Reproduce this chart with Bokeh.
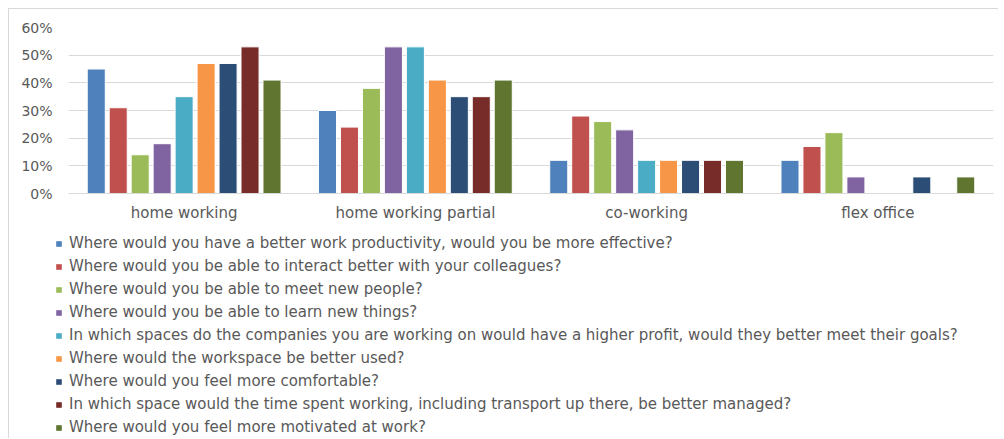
from bokeh.plotting import figure
from bokeh.models import (ColumnDataSource, FactorRange, Range1d, FixedTicker,
                          NumeralTickFormatter, Legend, LegendItem)
from bokeh.transform import dodge
from bokeh.embed import file_html
from bokeh.resources import INLINE

categories = ["home working", "home working partial", "co-working", "flex office"]

series_labels = [
    "Where would you have a better work productivity, would you be more effective?",
    "Where would you be able to interact better with your colleagues?",
    "Where would you be able to meet new people?",
    "Where would you be able to learn new things?",
    "In which spaces do the companies you are working on would have a higher profit, would they better meet their goals?",
    "Where would the workspace be better used?",
    "Where would you feel more comfortable?",
    "In which space would the time spent working, including transport up there, be better managed?",
    "Where would you feel more motivated at work?",
]

productivity = [0.45, 0.30, 0.12, 0.12]
interact = [0.31, 0.24, 0.28, 0.17]
meet_people = [0.14, 0.38, 0.26, 0.22]
learn = [0.18, 0.53, 0.23, 0.06]
profit = [0.35, 0.53, 0.12, 0.0]
workspace_used = [0.47, 0.41, 0.12, 0.0]
comfortable = [0.47, 0.35, 0.12, 0.06]
time_managed = [0.53, 0.35, 0.12, 0.0]
motivated = [0.41, 0.41, 0.12, 0.06]

series_values = [productivity, interact, meet_people, learn, profit,
                 workspace_used, comfortable, time_managed, motivated]

colors = ["#4F81BD", "#C0504D", "#9BBB59", "#8064A2", "#4BACC6",
          "#F79646", "#2C4D75", "#772C2A", "#5F7530"]

y_ticks = [0, 0.1, 0.2, 0.3, 0.4, 0.5, 0.6]

data = {"cat": categories}
for i, vals in enumerate(series_values):
    data[f"s{i}"] = vals
source = ColumnDataSource(data)

TEXT = "#595959"
FONT = "DejaVu Sans"
BORDER = "1px solid #d9d9d9"

slot = 0.095
bar_w = 0.078

# --- chart ---
p = figure(x_range=FactorRange(*categories), y_range=Range1d(0, 0.6),
           width=990, height=215, output_backend="svg", toolbar_location=None,
           min_border_left=59, min_border_right=6, min_border_top=18,
           min_border_bottom=28)
p.styles = {"margin-left": "8px", "margin-top": "8px",
            "border-top": BORDER, "border-left": BORDER}
p.outline_line_color = None
p.xgrid.grid_line_color = None
p.ygrid.grid_line_color = "#d9d9d9"
p.ygrid.grid_line_width = 1

p.yaxis.ticker = FixedTicker(ticks=y_ticks)
p.yaxis.formatter = NumeralTickFormatter(format="0%")
p.yaxis.axis_line_color = None
p.yaxis.major_tick_line_color = None
p.yaxis.minor_tick_line_color = None
p.yaxis.major_tick_out = 0
p.yaxis.major_label_standoff = 16
p.yaxis.major_label_text_color = TEXT
p.yaxis.major_label_text_font = FONT
p.yaxis.major_label_text_font_size = "14px"

p.xaxis.axis_line_color = "#d9d9d9"
p.xaxis.major_tick_line_color = None
p.xaxis.major_tick_out = 0
p.xaxis.major_label_standoff = 10
p.xaxis.major_label_text_color = TEXT
p.xaxis.major_label_text_font = FONT
p.xaxis.major_label_text_font_size = "15px"

for i in range(len(series_values)):
    p.vbar(x=dodge("cat", (i - 4) * slot, range=p.x_range), top=f"s{i}",
           width=bar_w, source=source, fill_color=colors[i],
           line_color="white", line_width=1)

# --- legend panel (its bars lie outside its visible y range) ---
q = figure(x_range=FactorRange(*categories), y_range=Range1d(1, 2),
           width=990, height=215, output_backend="svg", toolbar_location=None,
           x_axis_type=None, y_axis_type=None,
           min_border_left=0, min_border_right=0, min_border_top=0,
           min_border_bottom=0)
q.styles = {"margin-left": "8px", "border-left": BORDER}
q.outline_line_color = None
q.xgrid.grid_line_color = None
q.ygrid.grid_line_color = None

items = []
for i in range(len(series_values)):
    r = q.vbar(x=dodge("cat", (i - 4) * slot, range=q.x_range), top=f"s{i}",
               width=bar_w, source=source, fill_color=colors[i], line_color=None)
    items.append(LegendItem(label=series_labels[i], renderers=[r]))

legend = Legend(items=items, location=(46, 0), orientation="vertical",
                padding=0, margin=0, spacing=1, label_height=22,
                glyph_width=7, glyph_height=7, label_standoff=7,
                label_text_font=FONT, label_text_font_size="15px",
                label_text_color=TEXT, border_line_color=None,
                background_fill_alpha=0)
q.add_layout(legend)

open("out.html", "w").write(file_html([p, q], INLINE))
